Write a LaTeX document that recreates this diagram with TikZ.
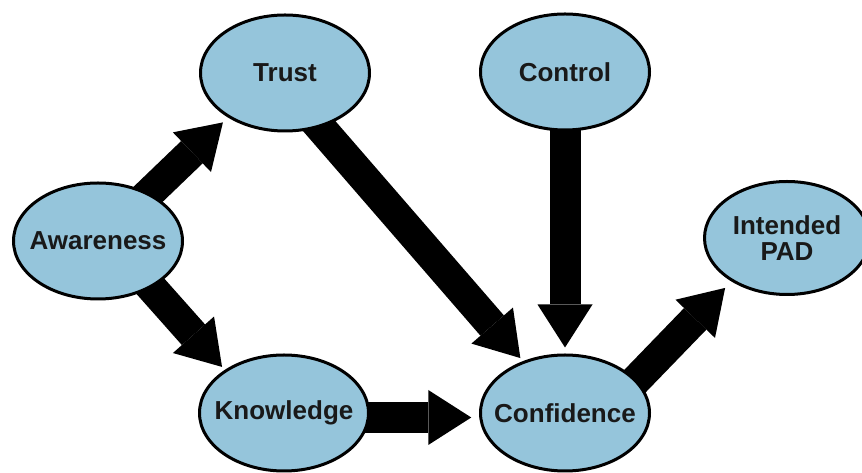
\documentclass[tikz,border=0pt]{standalone}
\usepackage{fontspec}
\setmainfont{Liberation Sans}
\usetikzlibrary{arrows.meta,shapes.geometric}
\pgfdeclarelayer{bg}
\pgfsetlayers{bg,main}
\definecolor{nodeblue}{RGB}{149,197,219}
\tikzset{
  bubble/.style={ellipse, draw=black, line width=3pt, fill=nodeblue,
    minimum width=169pt, minimum height=116pt, inner sep=0pt,
    label={[align=center, font=\fontsize{26}{26}\selectfont\bfseries, text=black!90]center:#1}},
  bigarrow/.style={line width=31pt, draw=black,
    -{Triangle[width=55pt,length=43pt,line width=0pt]}, shorten <=-14pt}
}
\begin{document}
\begin{tikzpicture}[x=1pt,y=1pt]
\useasboundingbox (0,0) rectangle (862,473);
\node[bubble=Trust] (tr) at (285,400) {};
\node[bubble=Control] (co) at (565,401) {};
\node[bubble=Awareness] (aw) at (98,232) {};
\node[bubble={Intended\\PAD}, minimum width=165pt, minimum height=113pt] (ip) at (787,235) {};
\node[bubble=Knowledge] (kn) at (284,60) {};
\node[bubble=Confidence] (cf) at (565,60) {};
\begin{pgfonlayer}{bg}
\fill[white] (0,0) rectangle (862,473);
\draw[bigarrow, shorten >=7pt] (aw.43) -- (tr.218);
\draw[bigarrow, shorten >=4pt] (aw.-41) -- (kn.144);
\draw[bigarrow, shorten >=4pt] (tr.-57) -- (cf.129);
\draw[bigarrow, shorten >=6pt] (co.south) -- (cf.north);
\draw[bigarrow, shorten >=8pt] (kn.-3) -- (cf.183);
\draw[bigarrow, shorten >=9pt] (cf.25) -- (ip.218);
\end{pgfonlayer}
\end{tikzpicture}
\end{document}
